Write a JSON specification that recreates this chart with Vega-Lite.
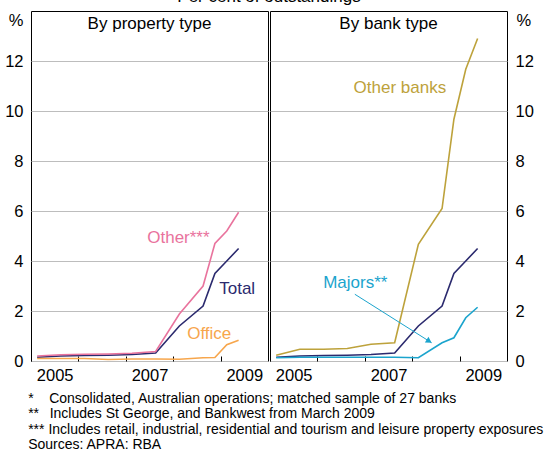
{
  "$schema": "https://vega.github.io/schema/vega-lite/v6.json",
  "padding": {"left": 4, "top": -13, "right": 0, "bottom": 0},
  "background": "white",
  "config": {
    "font": "Liberation Sans",
    "view": {"stroke": "black", "strokeWidth": 1},
    "axis": {"labelFont": "Liberation Sans", "labelColor": "black", "labelFontSize": 16.5, "titleFont": "Liberation Sans", "titleColor": "black", "titleFontSize": 16.5, "titleFontWeight": "normal"},
    "title": {"font": "Liberation Sans", "color": "black", "fontWeight": "normal"}
  },
  "datasets": {
    "series": [
      {"series": "Total", "t": 2005.13, "v": 0.15}, {"series": "Total", "t": 2005.63, "v": 0.2}, {"series": "Total", "t": 2006.13, "v": 0.22}, {"series": "Total", "t": 2006.63, "v": 0.23}, {"series": "Total", "t": 2007.13, "v": 0.26}, {"series": "Total", "t": 2007.63, "v": 0.32}, {"series": "Total", "t": 2008.13, "v": 1.4}, {"series": "Total", "t": 2008.63, "v": 2.2}, {"series": "Total", "t": 2008.88, "v": 3.5}, {"series": "Total", "t": 2009.13, "v": 4.0}, {"series": "Total", "t": 2009.38, "v": 4.5},
      {"series": "Other***", "t": 2005.13, "v": 0.2}, {"series": "Other***", "t": 2005.63, "v": 0.25}, {"series": "Other***", "t": 2006.13, "v": 0.27}, {"series": "Other***", "t": 2006.63, "v": 0.28}, {"series": "Other***", "t": 2007.13, "v": 0.31}, {"series": "Other***", "t": 2007.63, "v": 0.38}, {"series": "Other***", "t": 2008.13, "v": 1.88}, {"series": "Other***", "t": 2008.63, "v": 3.0}, {"series": "Other***", "t": 2008.88, "v": 4.7}, {"series": "Other***", "t": 2009.13, "v": 5.2}, {"series": "Other***", "t": 2009.38, "v": 5.95},
      {"series": "Office", "t": 2005.13, "v": 0.1}, {"series": "Office", "t": 2005.63, "v": 0.1}, {"series": "Office", "t": 2006.13, "v": 0.1}, {"series": "Office", "t": 2006.63, "v": 0.06}, {"series": "Office", "t": 2007.13, "v": 0.08}, {"series": "Office", "t": 2007.63, "v": 0.08}, {"series": "Office", "t": 2008.13, "v": 0.07}, {"series": "Office", "t": 2008.63, "v": 0.13}, {"series": "Office", "t": 2008.88, "v": 0.14}, {"series": "Office", "t": 2009.13, "v": 0.65}, {"series": "Office", "t": 2009.38, "v": 0.83},
      {"series": "Other banks", "t": 2005.13, "v": 0.23}, {"series": "Other banks", "t": 2005.63, "v": 0.47}, {"series": "Other banks", "t": 2006.13, "v": 0.47}, {"series": "Other banks", "t": 2006.63, "v": 0.5}, {"series": "Other banks", "t": 2007.13, "v": 0.67}, {"series": "Other banks", "t": 2007.63, "v": 0.73}, {"series": "Other banks", "t": 2008.13, "v": 4.67}, {"series": "Other banks", "t": 2008.63, "v": 6.1}, {"series": "Other banks", "t": 2008.88, "v": 9.67}, {"series": "Other banks", "t": 2009.13, "v": 11.67}, {"series": "Other banks", "t": 2009.38, "v": 12.9},
      {"series": "Majors**", "t": 2005.13, "v": 0.13}, {"series": "Majors**", "t": 2005.63, "v": 0.15}, {"series": "Majors**", "t": 2006.13, "v": 0.15}, {"series": "Majors**", "t": 2006.63, "v": 0.15}, {"series": "Majors**", "t": 2007.13, "v": 0.15}, {"series": "Majors**", "t": 2007.63, "v": 0.15}, {"series": "Majors**", "t": 2008.13, "v": 0.13}, {"series": "Majors**", "t": 2008.63, "v": 0.73}, {"series": "Majors**", "t": 2008.88, "v": 0.93}, {"series": "Majors**", "t": 2009.13, "v": 1.73}, {"series": "Majors**", "t": 2009.38, "v": 2.15}
    ],
    "labels": [
      {"panel": "left", "series": "Other***", "text": "Other***", "t": 2008.11, "v": 4.72},
      {"panel": "left", "series": "Total", "text": "Total", "t": 2009.35, "v": 2.67},
      {"panel": "left", "series": "Office", "text": "Office", "t": 2008.76, "v": 0.88},
      {"panel": "right", "series": "Other banks", "text": "Other banks", "t": 2007.74, "v": 10.72},
      {"panel": "right", "series": "Majors**", "text": "Majors**", "t": 2006.8, "v": 2.91}
    ],
    "titles": [
      {"panel": "left", "text": "By property type", "t": 2007.5, "v": 13.28},
      {"panel": "right", "text": "By bank type", "t": 2007.5, "v": 13.28}
    ],
    "arrow": [
      {"t": 2006.79, "v": 2.67, "t2": 2008.41, "v2": 0.73, "th": 2008.357, "vh": 0.794}
    ]
  },
  "vconcat": [
    {
      "title": {"text": "Per cent of outstandings", "fontSize": 17, "anchor": "middle", "offset": 5},
      "spacing": 0,
      "hconcat": [
        {
          "width": 237,
          "height": 350,
          "layer": [
            {
              "data": {"name": "series"},
              "transform": [{"filter": {"field": "series", "oneOf": ["Office", "Other***", "Total"]}}],
              "mark": {"type": "line", "strokeWidth": 1.6},
              "encoding": {
                "x": {"field": "t", "type": "quantitative", "scale": {"domain": [2005, 2010], "nice": false, "zero": false},
                  "axis": {"title": null, "values": [2005, 2006, 2007, 2008, 2009], "format": "d", "labelExpr": "datum.value % 2 == 1 ? datum.label : ''", "labelOffset": 23.7, "labelFlush": false, "labelOverlap": false, "tickSize": -5, "tickColor": "black", "labelPadding": 11, "domain": false, "grid": false}},
                "y": {"field": "v", "type": "quantitative", "scale": {"domain": [0, 14], "nice": false},
                  "axis": {"orient": "left", "values": [0, 2, 4, 6, 8, 10, 12], "title": "%", "titleAngle": 0, "titleX": -8, "titleY": 14, "titleAlign": "right", "titleBaseline": "alphabetic", "ticks": false, "domain": false, "labelPadding": 8, "grid": true, "gridColor": "#bdbdbd"}},
                "color": {"field": "series", "type": "nominal", "scale": {"domain": ["Other***", "Total", "Office", "Other banks", "Majors**"], "range": ["#E9739D", "#2B2A6E", "#F7A64C", "#BDA23B", "#1BA4CD"]}, "legend": null}
              }
            },
            {
              "data": {"name": "labels"},
              "transform": [{"filter": "datum.panel == 'left'"}],
              "mark": {"type": "text", "fontSize": 17, "align": "center", "baseline": "alphabetic"},
              "encoding": {
                "x": {"field": "t", "type": "quantitative"},
                "y": {"field": "v", "type": "quantitative"},
                "text": {"field": "text"},
                "color": {"field": "series", "type": "nominal", "legend": null}
              }
            },
            {
              "data": {"name": "titles"},
              "transform": [{"filter": "datum.panel == 'left'"}],
              "mark": {"type": "text", "fontSize": 17, "align": "center", "baseline": "alphabetic", "color": "black"},
              "encoding": {
                "x": {"field": "t", "type": "quantitative"},
                "y": {"field": "v", "type": "quantitative"},
                "text": {"field": "text"}
              }
            }
          ]
        },
        {
          "width": 237,
          "height": 350,
          "layer": [
            {
              "data": {"name": "series"},
              "transform": [{"filter": {"field": "series", "oneOf": ["Other banks", "Majors**", "Total"]}}],
              "mark": {"type": "line", "strokeWidth": 1.6},
              "encoding": {
                "x": {"field": "t", "type": "quantitative", "scale": {"domain": [2005, 2010], "nice": false, "zero": false},
                  "axis": {"title": null, "values": [2005, 2006, 2007, 2008, 2009], "format": "d", "labelExpr": "datum.value % 2 == 1 ? datum.label : ''", "labelOffset": 23.7, "labelFlush": false, "labelOverlap": false, "tickSize": -5, "tickColor": "black", "labelPadding": 11, "domain": false, "grid": false}},
                "y": {"field": "v", "type": "quantitative", "scale": {"domain": [0, 14], "nice": false},
                  "axis": {"orient": "right", "values": [0, 2, 4, 6, 8, 10, 12], "title": "%", "titleAngle": 0, "titleX": 9, "titleY": 14, "titleAlign": "left", "titleBaseline": "alphabetic", "ticks": false, "domain": false, "labelPadding": 8, "grid": true, "gridColor": "#bdbdbd"}},
                "color": {"field": "series", "type": "nominal", "scale": {"domain": ["Other***", "Total", "Office", "Other banks", "Majors**"], "range": ["#E9739D", "#2B2A6E", "#F7A64C", "#BDA23B", "#1BA4CD"]}, "legend": null}
              }
            },
            {
              "data": {"name": "labels"},
              "transform": [{"filter": "datum.panel == 'right'"}],
              "mark": {"type": "text", "fontSize": 17, "align": "center", "baseline": "alphabetic"},
              "encoding": {
                "x": {"field": "t", "type": "quantitative"},
                "y": {"field": "v", "type": "quantitative"},
                "text": {"field": "text"},
                "color": {"field": "series", "type": "nominal", "legend": null}
              }
            },
            {
              "data": {"name": "titles"},
              "transform": [{"filter": "datum.panel == 'right'"}],
              "mark": {"type": "text", "fontSize": 17, "align": "center", "baseline": "alphabetic", "color": "black"},
              "encoding": {
                "x": {"field": "t", "type": "quantitative"},
                "y": {"field": "v", "type": "quantitative"},
                "text": {"field": "text"}
              }
            },
            {
              "data": {"name": "arrow"},
              "mark": {"type": "rule", "color": "#1BA4CD", "strokeWidth": 1},
              "encoding": {
                "x": {"field": "t", "type": "quantitative"},
                "y": {"field": "v", "type": "quantitative"},
                "x2": {"field": "t2"},
                "y2": {"field": "v2"}
              }
            },
            {
              "data": {"name": "arrow"},
              "mark": {"type": "point", "shape": "triangle-right", "filled": true, "color": "#1BA4CD", "size": 45, "angle": 32, "opacity": 1},
              "encoding": {
                "x": {"field": "th", "type": "quantitative"},
                "y": {"field": "vh", "type": "quantitative"}
              }
            }
          ]
        }
      ]
    }
  ],
  "title": {
    "text": [
      "*\u00a0\u00a0\u00a0\u00a0Consolidated, Australian operations; matched sample of 27 banks",
      "**\u00a0\u00a0\u2009Includes St George, and Bankwest from March 2009",
      "***\u00a0Includes retail, industrial, residential and tourism and leisure property exposures",
      "Sources: APRA: RBA"
    ],
    "orient": "bottom",
    "anchor": "start",
    "fontSize": 14,
    "lineHeight": 15.3,
    "offset": 8,
    "dx": 24
  }
}
